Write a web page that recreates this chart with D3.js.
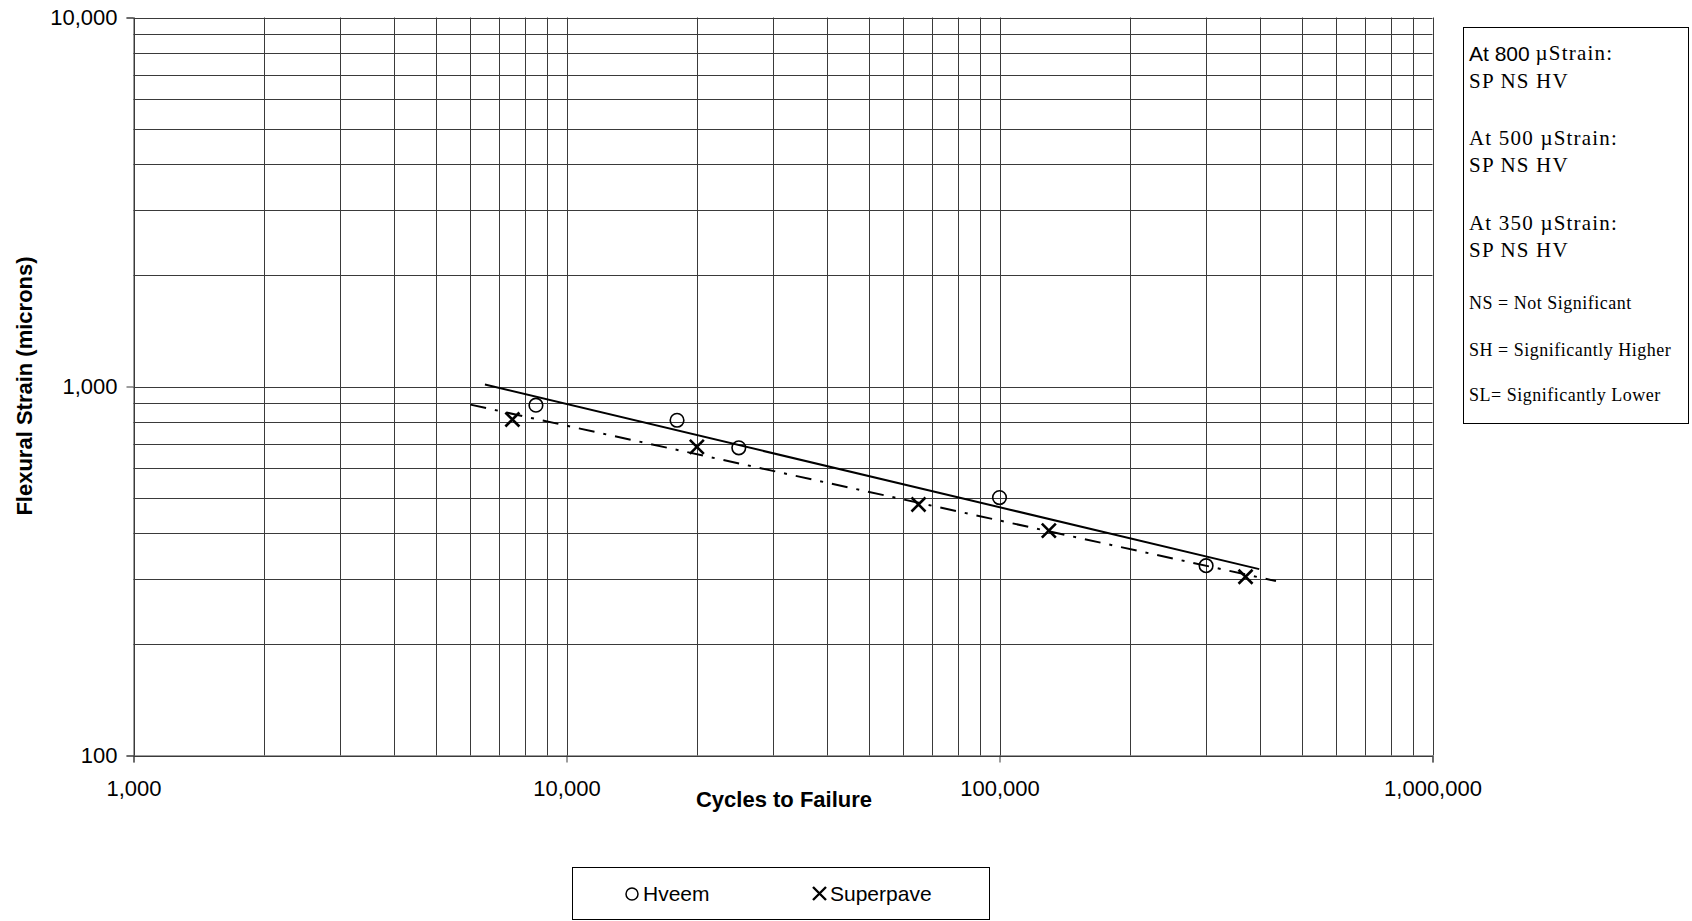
<!DOCTYPE html>
<html><head><meta charset="utf-8">
<script src="https://cdn.jsdelivr.net/npm/d3@7"></script>
<style>body{margin:0;background:#fff}svg{display:block}</style>
</head><body>
<svg id="c" width="1692" height="921"></svg>
<script>
// ---- data ----
const hveemCycles = [8500, 18000, 25000, 100000, 300000];
const hveemStrain = [890, 810, 682, 500, 327];
const superpaveCycles = [7500, 20000, 65000, 130000, 370000];
const superpaveStrain = [814, 686, 479, 407, 305];
const hveemTrend = [[6480, 1012], [398000, 320]];
const superpaveTrend = [[6000, 893], [435000, 297]];
const xTickValues = [1000, 10000, 100000, 1000000];
const yTickValues = [100, 1000, 10000];
const noteLines = [
  {sans: "At 800 ", serif: "\u00b5Strain:"},
  {serif: "SP NS HV"},
  {sans: "", serif: "At 500 \u00b5Strain:"},
  {serif: "SP NS HV"},
  {sans: "", serif: "At 350 \u00b5Strain:"},
  {serif: "SP NS HV"},
  {small: "NS = Not Significant"},
  {small: "SH = Significantly Higher"},
  {small: "SL= Significantly Lower"}
];

const svg = d3.select("#c");
const L = 133.5, R = 1432.5, T = 17.5, B = 755.5;
const x = d3.scaleLog().domain([1000, 1000000]).range([L, R]);
const y = d3.scaleLog().domain([100, 10000]).range([B, T]);
const fmt = d3.format(",");
const gridColor = "#3a3a3a";

// minor grid values
const xGrid = [], yGrid = [];
for (let d = 1000; d < 1000000; d *= 10) for (let k = 1; k <= 9; k++) xGrid.push(d * k);
xGrid.push(1000000);
for (let d = 100; d < 10000; d *= 10) for (let k = 1; k <= 9; k++) yGrid.push(d * k);
yGrid.push(10000);

const g = svg.append("g");
g.selectAll(".vg").data(xGrid).join("line")
  .attr("x1", d => Math.round(x(d)) + 0.5).attr("x2", d => Math.round(x(d)) + 0.5)
  .attr("y1", T).attr("y2", B).attr("stroke", gridColor).attr("stroke-width", 1);
g.selectAll(".hg").data(yGrid).join("line")
  .attr("y1", d => Math.round(y(d)) + 0.5).attr("y2", d => Math.round(y(d)) + 0.5)
  .attr("x1", L).attr("x2", R).attr("stroke", gridColor).attr("stroke-width", 1);

// axes (major ticks outside)
const xAxis = d3.axisBottom(x).tickValues(xTickValues).tickFormat(fmt).tickSize(7).tickPadding(18);
const yAxis = d3.axisLeft(y).tickValues(yTickValues).tickFormat(fmt).tickSize(7).tickPadding(9);
const ax = svg.append("g").attr("transform", `translate(0,${B})`).call(xAxis);
const ay = svg.append("g").attr("transform", `translate(${L},0)`).call(yAxis);
[ax, ay].forEach(a => {
  a.select(".domain").attr("stroke", gridColor);
  a.selectAll(".tick line").attr("stroke", gridColor);
  a.selectAll("text").attr("font-family", "Liberation Sans, Arial, sans-serif")
    .attr("font-size", 22).attr("fill", "#000");
});

// axis titles
svg.append("text").attr("x", 784).attr("y", 807).attr("text-anchor", "middle")
  .attr("font-family", "Liberation Sans, Arial, sans-serif").attr("font-weight", "bold")
  .attr("font-size", 22).text("Cycles to Failure");
svg.append("text").attr("transform", "translate(32,386) rotate(-90)").attr("text-anchor", "middle")
  .attr("font-family", "Liberation Sans, Arial, sans-serif").attr("font-weight", "bold")
  .attr("font-size", 22).text("Flexural Strain (microns)");

// trend lines
const line = d3.line().x(d => x(d[0])).y(d => y(d[1]));
svg.append("path").datum(hveemTrend).attr("d", line).attr("fill", "none")
  .attr("stroke", "#000").attr("stroke-width", 2);
svg.append("path").datum(superpaveTrend).attr("d", line).attr("fill", "none")
  .attr("stroke", "#000").attr("stroke-width", 2).attr("stroke-dasharray", "16,9,3,9");

// markers
const hv = hveemCycles.map((c, i) => [c, hveemStrain[i]]);
const sp = superpaveCycles.map((c, i) => [c, superpaveStrain[i]]);
svg.selectAll(".hv").data(hv).join("circle")
  .attr("cx", d => x(d[0])).attr("cy", d => y(d[1])).attr("r", 6.8)
  .attr("fill", "none").attr("stroke", "#000").attr("stroke-width", 1.6);
const xm = 7;
svg.selectAll(".sp").data(sp).join("path")
  .attr("d", d => { const cx = x(d[0]), cy = y(d[1]);
    return `M${cx - xm},${cy - xm}L${cx + xm},${cy + xm}M${cx - xm},${cy + xm}L${cx + xm},${cy - xm}`; })
  .attr("stroke", "#000").attr("stroke-width", 2.6).attr("fill", "none");

// bottom legend
svg.append("rect").attr("x", 572.5).attr("y", 867.5).attr("width", 417).attr("height", 52)
  .attr("fill", "#fff").attr("stroke", "#000").attr("stroke-width", 1);
svg.append("circle").attr("cx", 632).attr("cy", 894).attr("r", 6)
  .attr("fill", "none").attr("stroke", "#000").attr("stroke-width", 1.5);
svg.append("path").attr("d", "M813,887L826,900M813,900L826,887").attr("stroke", "#000").attr("stroke-width", 2.4);
svg.append("text").attr("x", 643).attr("y", 901).attr("font-family", "Liberation Sans, Arial, sans-serif")
  .attr("font-size", 21).text("Hveem");
svg.append("text").attr("x", 830).attr("y", 901).attr("font-family", "Liberation Sans, Arial, sans-serif")
  .attr("font-size", 21).text("Superpave");

// note box
svg.append("rect").attr("x", 1463.5).attr("y", 27.5).attr("width", 225).attr("height", 396)
  .attr("fill", "#fff").attr("stroke", "#000").attr("stroke-width", 1);
const noteY = [53, 81, 138, 165, 223, 250, 303, 350, 395];
noteLines.forEach((ln, i) => {
  const t = svg.append("text").attr("x", 1469).attr("y", noteY[i]).attr("dominant-baseline", "central");
  if (ln.small) {
    t.attr("font-family", "Liberation Serif, Times New Roman, serif").attr("font-size", 18)
      .attr("letter-spacing", 0.5).text(ln.small);
  } else {
    if (ln.sans) t.append("tspan").attr("font-family", "Liberation Sans, Arial, sans-serif")
      .attr("font-size", 21).text(ln.sans);
    t.append("tspan").attr("font-family", "Liberation Serif, Times New Roman, serif")
      .attr("font-size", 21).attr("letter-spacing", 1.2).text(ln.serif);
  }
});
</script>
</body></html>
